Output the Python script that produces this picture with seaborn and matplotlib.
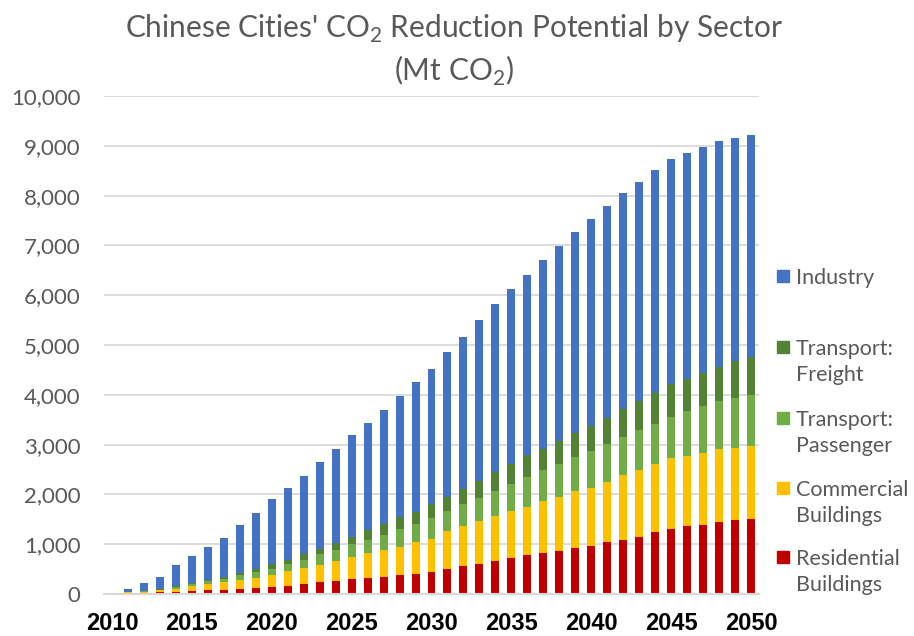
import numpy as np
import matplotlib
matplotlib.use("Agg")
import matplotlib.pyplot as plt
from matplotlib.patches import Rectangle
import seaborn as sns

years = list(range(2010, 2051))

residential = [0, 8, 27, 40, 42, 62, 82, 84, 107, 127,
               145, 170, 205, 235, 255, 300, 320, 348, 390, 410,
               440, 510, 563, 611, 659, 726, 774, 815, 862, 923,
               971, 1039, 1086, 1154, 1242, 1303, 1358, 1392, 1446, 1487,
               1514]
commercial = [0, 25, 20, 40, 65, 92, 112, 156, 177, 204,
              247, 292, 315, 355, 403, 450, 497, 536, 560, 635,
              673, 753, 795, 849, 916, 937, 978, 1052, 1093, 1148,
              1167, 1215, 1304, 1344, 1372, 1426, 1419, 1446, 1460, 1439,
              1453]
passenger = [0, 3, 10, 7, 33, 40, 64, 71, 91, 110,
             118, 134, 166, 207, 229, 248, 271, 294, 362, 357,
             405, 400, 455, 475, 496, 543, 590, 631, 659, 679,
             727, 760, 767, 795, 808, 829, 896, 930, 964, 1012,
             1038]
freight = [0, 4, 10, 5, 22, 20, 23, 39, 49, 67,
           85, 84, 109, 113, 138, 157, 197, 224, 228, 248,
           282, 292, 305, 339, 387, 408, 441, 421, 468, 475,
           509, 530, 563, 583, 611, 651, 645, 665, 679, 733,
           747]
industry = [0, 65, 152, 242, 418, 551, 659, 770, 966, 1127,
            1310, 1445, 1580, 1738, 1890, 2035, 2150, 2303, 2445, 2613,
            2728, 2913, 3042, 3225, 3360, 3516, 3632, 3795, 3904, 4046,
            4155, 4256, 4325, 4393, 4487, 4535, 4542, 4535, 4555, 4494,
            4460]

# stacking order bottom -> top
series = [
    ("Residential\nBuildings", residential, "#C00000"),
    ("Commercial\nBuildings", commercial, "#FFC000"),
    ("Transport:\nPassenger", passenger, "#70AD47"),
    ("Transport:\nFreight", freight, "#548235"),
    ("Industry", industry, "#4472C4"),
]

sns.set_style("white")
plt.rcParams['font.family'] = ['Lato', 'DejaVu Sans']
plt.rcParams['mathtext.fontset'] = 'custom'
plt.rcParams['mathtext.rm'] = 'Lato'

fig = plt.figure(figsize=(9.14, 6.36), dpi=100)
ax = fig.add_axes([0.1138, 0.066, 0.7166, 0.783])

# cumulative heights, draw tallest first so lower layers sit on top
cum = np.cumsum(np.array([s[1] for s in series], dtype=float), axis=0)
for i in range(len(series) - 1, -1, -1):
    sns.barplot(x=years, y=cum[i], color=series[i][2], width=0.5,
                saturation=1, errorbar=None, ax=ax, linewidth=0)

ax.set_xlim(-0.5, len(years) - 0.5)
ax.set_ylim(0, 10000)
ax.set_yticks(range(0, 10001, 1000))
ax.set_yticklabels([f"{v:,}" for v in range(0, 10001, 1000)])
ax.yaxis.grid(True, color="#D9D9D9", linewidth=1.3)
ax.set_axisbelow(True)

ticks = list(range(0, len(years), 5))
ax.set_xticks(ticks)
ax.set_xticklabels([str(years[t]) for t in ticks])
for lab in ax.get_xticklabels():
    lab.set_family(['Liberation Sans', 'DejaVu Sans'])
    lab.set_fontweight('bold')
    lab.set_fontsize(17)
    lab.set_color('black')
ax.tick_params(axis='x', length=0, pad=13)
ax.tick_params(axis='y', length=0, pad=17, labelsize=16, labelcolor="#595959")

for s in ["top", "right", "left"]:
    ax.spines[s].set_visible(False)
ax.spines["bottom"].set_color("#D9D9D9")
ax.spines["bottom"].set_linewidth(1.5)

fig.text(0.497, 0.955, "Chinese Cities' CO$_2$ Reduction Potential by Sector",
         ha='center', va='center', fontsize=21.5, color="#595959")
fig.text(0.497, 0.888, "(Mt CO$_2$)", ha='center', va='center', fontsize=21.5,
         color="#595959")

# legend, Excel style: marker next to the first line of each label
legend_y = [276, 347, 418, 488, 557]
for (name, vals, col), y in zip(series[::-1], legend_y):
    yf = 1 - y / 636
    fig.patches.append(Rectangle((777 / 914, yf - 6 / 636), 12 / 914, 12 / 636,
                                 transform=fig.transFigure, color=col))
    fig.text(796 / 914, yf + 8 / 636, name, ha='left', va='top',
             fontsize=15.5, color="#595959", linespacing=1.4)

fig.savefig("out.png", dpi=100)
